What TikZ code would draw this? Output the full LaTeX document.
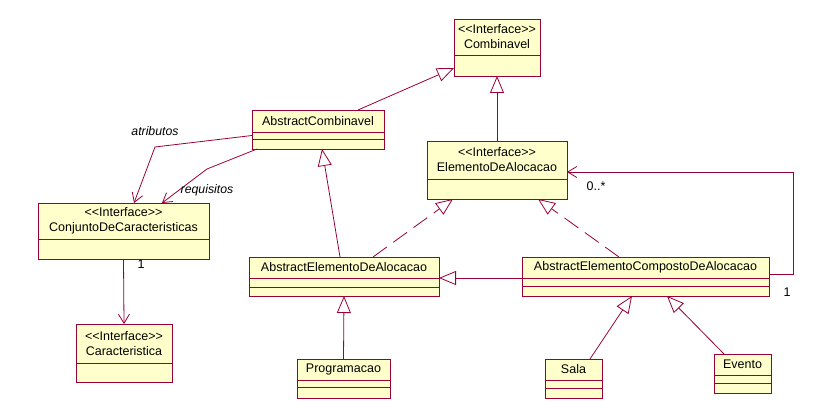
\documentclass[tikz,border=0pt]{standalone}
\usepackage{fontspec}
\setmainfont{Liberation Sans}
\usetikzlibrary{arrows.meta, positioning, calc}
\definecolor{roseLine}{HTML}{990033}
\definecolor{roseFill}{HTML}{FFFFCC}
\newcommand{\stereo}{<{}<Interface>{}>}
\tikzset{
  % class compartments (name part carries the text, lower parts stay empty)
  cls/.style={draw=roseLine, fill=roseFill, line width=0.9pt,
    inner sep=0pt, outer sep=0pt, align=center,
    font=\fontsize{12.5}{15}\selectfont},
  part/.style={cls, below=0pt of #1},
  % connectors
  gen/.style={draw=roseLine, line width=0.8pt,
    -{Triangle[open, length=17pt, width=14pt]}},
  real/.style={gen, dash pattern=on 17pt off 8pt},
  assoc/.style={draw=roseLine, line width=0.8pt,
    -{Straight Barb[length=9pt, width=11pt]}},
  mult/.style={font=\fontsize{12.5}{14}\selectfont},
  role/.style={font=\fontsize{12.3}{14}\selectfont\itshape},
}

\begin{document}
\begin{tikzpicture}[x=1pt, y=-1pt]
\useasboundingbox (0,0) rectangle (840,419);

% =====================================================================
% INTERFACES
% =====================================================================
\node[cls, minimum width=86pt, minimum height=36pt] (iComb) at (497,37)
  {\stereo\\Combinavel};
\node[part=iComb, minimum width=86pt, minimum height=21pt] (iCombB) {};

\node[cls, minimum width=140pt, minimum height=38pt] (iElem) at (497,160)
  {\stereo\\ElementoDeAlocacao};
\node[part=iElem, minimum width=140pt, minimum height=20pt] (iElemB) {};

\node[cls, minimum width=171pt, minimum height=36pt] (iConj) at (123.5,221)
  {\stereo\\ConjuntoDeCaracteristicas};
\node[part=iConj, minimum width=171pt, minimum height=20pt] (iConjB) {};

\node[cls, minimum width=96pt, minimum height=39pt] (iCarac) at (124,343.5)
  {\stereo\\Caracteristica};
\node[part=iCarac, minimum width=96pt, minimum height=19pt] (iCaracB) {};

% =====================================================================
% CLASSES
% =====================================================================
\node[cls, minimum width=132pt, minimum height=22pt] (absComb) at (318,121)
  {AbstractCombinavel};
\node[part=absComb, minimum width=132pt, minimum height=7pt] (absCombA) {};
\node[part=absCombA, minimum width=132pt, minimum height=10pt] (absCombO) {};

\node[cls, minimum width=190pt, minimum height=21pt] (absElem) at (344,267.5)
  {AbstractElementoDeAlocacao};
\node[part=absElem, minimum width=190pt, minimum height=9pt] (absElemA) {};
\node[part=absElemA, minimum width=190pt, minimum height=9pt] (absElemO) {};

\node[cls, minimum width=247pt, minimum height=21pt] (absComp) at (645.5,267.5)
  {AbstractElementoCompostoDeAlocacao};
\node[part=absComp, minimum width=247pt, minimum height=8pt] (absCompA) {};
\node[part=absCompA, minimum width=247pt, minimum height=10pt] (absCompO) {};

\node[cls, minimum width=93pt, minimum height=21pt] (prog) at (343.5,369.5)
  {Programacao};
\node[part=prog, minimum width=93pt, minimum height=7pt] (progA) {};
\node[part=progA, minimum width=93pt, minimum height=11pt] (progO) {};

\node[cls, minimum width=57pt, minimum height=21pt] (sala) at (573.5,369.5)
  {Sala};
\node[part=sala, minimum width=57pt, minimum height=8pt] (salaA) {};
\node[part=salaA, minimum width=57pt, minimum height=10pt] (salaO) {};

\node[cls, minimum width=57pt, minimum height=21pt] (evento) at (742.5,364.5)
  {Evento};
\node[part=evento, minimum width=57pt, minimum height=8pt] (eventoA) {};
\node[part=eventoA, minimum width=57pt, minimum height=10pt] (eventoO) {};

% =====================================================================
% GENERALIZATION / REALIZATION
% =====================================================================
\draw[gen] ([xshift=40pt]absComb.north) -- ($(iComb.south west)+(0,13)$);
\draw[gen] (iElem.north) -- (iCombB.south);
\draw[gen] ([xshift=-4pt]absElem.north) -- ([xshift=4pt]absCombO.south);
\draw[gen] (absComp.south west) -- (absElem.south east);
\draw[gen] (prog.north) -- (absElemO.south);
\draw[gen] ([xshift=16.5pt]sala.north) -- ([xshift=-13.5pt]absCompO.south);
\draw[gen] ([xshift=-18.5pt]evento.north) -- ([xshift=21.5pt]absCompO.south);

\draw[real] ([xshift=29pt]absElem.north) -- ([xshift=-44pt]iElemB.south);
\draw[real] ([xshift=-26.5pt]absComp.north) -- ([xshift=41pt]iElemB.south);

% =====================================================================
% ASSOCIATIONS
% =====================================================================
\draw[assoc] (absCombA.west) -- (155,147) -- ([xshift=10.5pt]iConj.north);
\node[role] (lblAtr) at (155,131) {atributos};

\draw[assoc] ([xshift=5pt]absCombO.south west) -- (207,169)
  -- ([xshift=38.5pt]iConj.north);
\node[role] (lblReq) at (207,190) {requisitos};

\draw[assoc] (iConjB.south) -- (iCarac.north);
\node[mult] (mConj) at (141,264) {1};

\draw[assoc] ([yshift=-6.5pt]absComp.east) -- ++(24,0)
  |- ([yshift=-12pt]iElem.east);
\node[mult] (mMany) at (596,186) {0..*};
\node[mult] (mOne) at (787,292) {1};

\end{tikzpicture}
\end{document}
